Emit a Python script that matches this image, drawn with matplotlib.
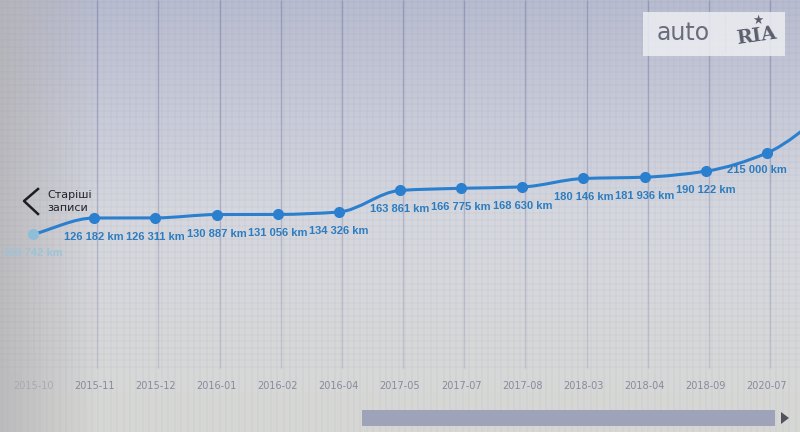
import numpy as np
import matplotlib.pyplot as plt
from matplotlib.path import Path
from matplotlib.patches import PathPatch, Rectangle, Polygon
import matplotlib.colors as mcolors

# дані пробігу (km) по датах записів
dates = ['2015-10', '2015-11', '2015-12', '2016-01', '2016-02', '2016-04', '2017-05',
         '2017-07', '2017-08', '2018-03', '2018-04', '2018-09', '2020-07']
mileage = [103742, 126182, 126311, 130887, 131056, 134326, 163861,
           166775, 168630, 180146, 181936, 190122, 215000]
# наступний запис, що вже за правим краєм
next_mileage = 272000

W, H = 800, 432
fig = plt.figure(figsize=(8, 4.32), dpi=100)
ax = fig.add_axes([0, 0, 1, 1])
XL = (-0.54, 12.54)
YL = (-166168, 423996)
ax.set_xlim(*XL)
ax.set_ylim(*YL)
ax.axis('off')

# фон (фото екрана): вертикальний градієнт
top = np.array(mcolors.to_rgb('#b8bcd0'))
mid = np.array(mcolors.to_rgb('#d6d8df'))
bot = np.array(mcolors.to_rgb('#d7d7d4'))
t = np.linspace(0, 1, 200)[:, None]
grad = np.where(t < 0.5, top + (mid - top) * (t / 0.5), mid + (bot - mid) * ((t - 0.5) / 0.5))
img = np.repeat(grad[:, None, :], 2, axis=1)
ax.imshow(img, extent=(*XL, *YL), aspect='auto', zorder=0)
# сірий відблиск ліворуч
glare = np.zeros((2, 200, 4))
glare[..., :3] = mcolors.to_rgb('#b4b2b4')
glare[..., 3] = np.clip(1 - np.linspace(0, 1, 200) / 0.12, 0, 1) * 0.75
ax.imshow(glare, extent=(*XL, *YL), aspect='auto', zorder=0.5)

def px2y(py):
    return 126182 + (218 - py) / 0.000732

def px2x(px):
    return XL[0] + px / W * (XL[1] - XL[0])

# дрібна сітка
for gx in np.arange(2, W, 6.4):
    ax.axvline(px2x(gx), color='#8d93aa', lw=0.35, alpha=0.22, zorder=1)
for gy in np.arange(2, 372, 6.4):
    ax.axhline(px2y(gy), color='#8d93aa', lw=0.35, alpha=0.22, zorder=1)
# основні вертикальні лінії, що поступово бліднуть донизу
edges = np.linspace(0, 368, 13)
for i in range(1, len(dates)):
    for s in range(len(edges) - 1):
        a = 0.75 - 0.45 * s / (len(edges) - 2)
        ax.axvline(i + 0.05, ymin=1 - edges[s + 1] / H, ymax=1 - edges[s] / H,
                   color='#8a8fb1', lw=1.0, alpha=a, zorder=1, solid_capstyle='butt')

# згладжена лінія (spline через точки)
xs = np.arange(len(mileage) + 1, dtype=float)
ys = np.array(mileage + [next_mileage], dtype=float)
d = np.diff(ys) / np.diff(xs)
m = np.zeros_like(ys)
m[0], m[-1] = d[0], d[-1]
for k in range(1, len(ys) - 1):
    m[k] = 0 if d[k - 1] * d[k] <= 0 else 2 / (1 / d[k - 1] + 1 / d[k])
verts = [(xs[0], ys[0])]
codes = [Path.MOVETO]
for k in range(len(xs) - 1):
    h = xs[k + 1] - xs[k]
    verts += [(xs[k] + h / 3, ys[k] + m[k] * h / 3),
              (xs[k + 1] - h / 3, ys[k + 1] - m[k + 1] * h / 3),
              (xs[k + 1], ys[k + 1])]
    codes += [Path.CURVE4] * 3
ax.add_patch(PathPatch(Path(verts, codes), fc='none', ec='#2b7fcf', lw=2.2, zorder=3))

ax.plot(range(1, len(mileage)), mileage[1:], 'o', color='#2b7fcf', ms=7, zorder=4)
# перша точка бліда (відблиск)
ax.plot([0], [mileage[0]], 'o', color='#8fbfd8', ms=7, zorder=5)

for i, v in enumerate(mileage):
    lab = f'{v:,} km'.replace(',', ' ')
    col = '#2c7cbf' if i > 0 else '#9cc4d8'
    dx = -10 if i == len(mileage) - 1 else 0
    dy = -17 if i == len(mileage) - 1 else -19
    ax.annotate(lab, (i, v), xytext=(dx, dy), textcoords='offset pixels',
                ha='center', va='center', fontsize=8, fontweight='bold',
                family='Liberation Sans', color=col, zorder=6)

# підписи дат
for i, dt in enumerate(dates):
    col = '#878a9c' if i > 0 else '#aca8b2'
    fig.text((33 + 61.17 * i) / W, 1 - 386 / H, dt, ha='center', va='center',
             fontsize=7, color=col)

# "Старіші записи"
fig.lines.append(plt.Line2D([38 / W, 24 / W, 38 / W], [1 - 189 / H, 1 - 201 / H, 1 - 214 / H],
                            transform=fig.transFigure, color='#1c1c24', lw=1.8))
fig.text(47 / W, 1 - 195 / H, 'Старіші', fontsize=8, color='#222228', ha='left', va='center')
fig.text(47 / W, 1 - 208 / H, 'записи', fontsize=8, color='#222228', ha='left', va='center')

# скролбар
fig.patches.append(Rectangle((362 / W, 1 - 426 / H), (775 - 362) / W, 16 / H,
                             transform=fig.transFigure, fc='#9ea3ba', ec='none', zorder=5))
fig.patches.append(Polygon([[781 / W, 1 - 412 / H], [781 / W, 1 - 424 / H], [789 / W, 1 - 418 / H]],
                           closed=True, transform=fig.transFigure, fc='#50525e', ec='none'))

# логотип auto RIA
fig.patches.append(Rectangle((643 / W, 1 - 56 / H), 142 / W, 44 / H, transform=fig.transFigure,
                             fc='#eceef2', ec='none', alpha=0.85, zorder=5))
fig.text(683 / W, 1 - 33 / H, 'auto', fontsize=17, color='#6a6c7c', ha='center', va='center',
         zorder=6)
fig.lines.append(plt.Line2D([725 / W, 725 / W], [1 - 52 / H, 1 - 15 / H],
                            transform=fig.transFigure, color='#9a9caa', lw=0.8))
fig.text(756 / W, 1 - 36 / H, 'RIA', fontsize=14, color='#5c5e6c', ha='center', va='center',
         fontweight='bold', family='DejaVu Serif', rotation=8, zorder=6)
fig.text(758 / W, 1 - 20 / H, '★', fontsize=9, color='#5c5e6c', ha='center', va='center', zorder=6)

plt.savefig('out.png', dpi=100)
